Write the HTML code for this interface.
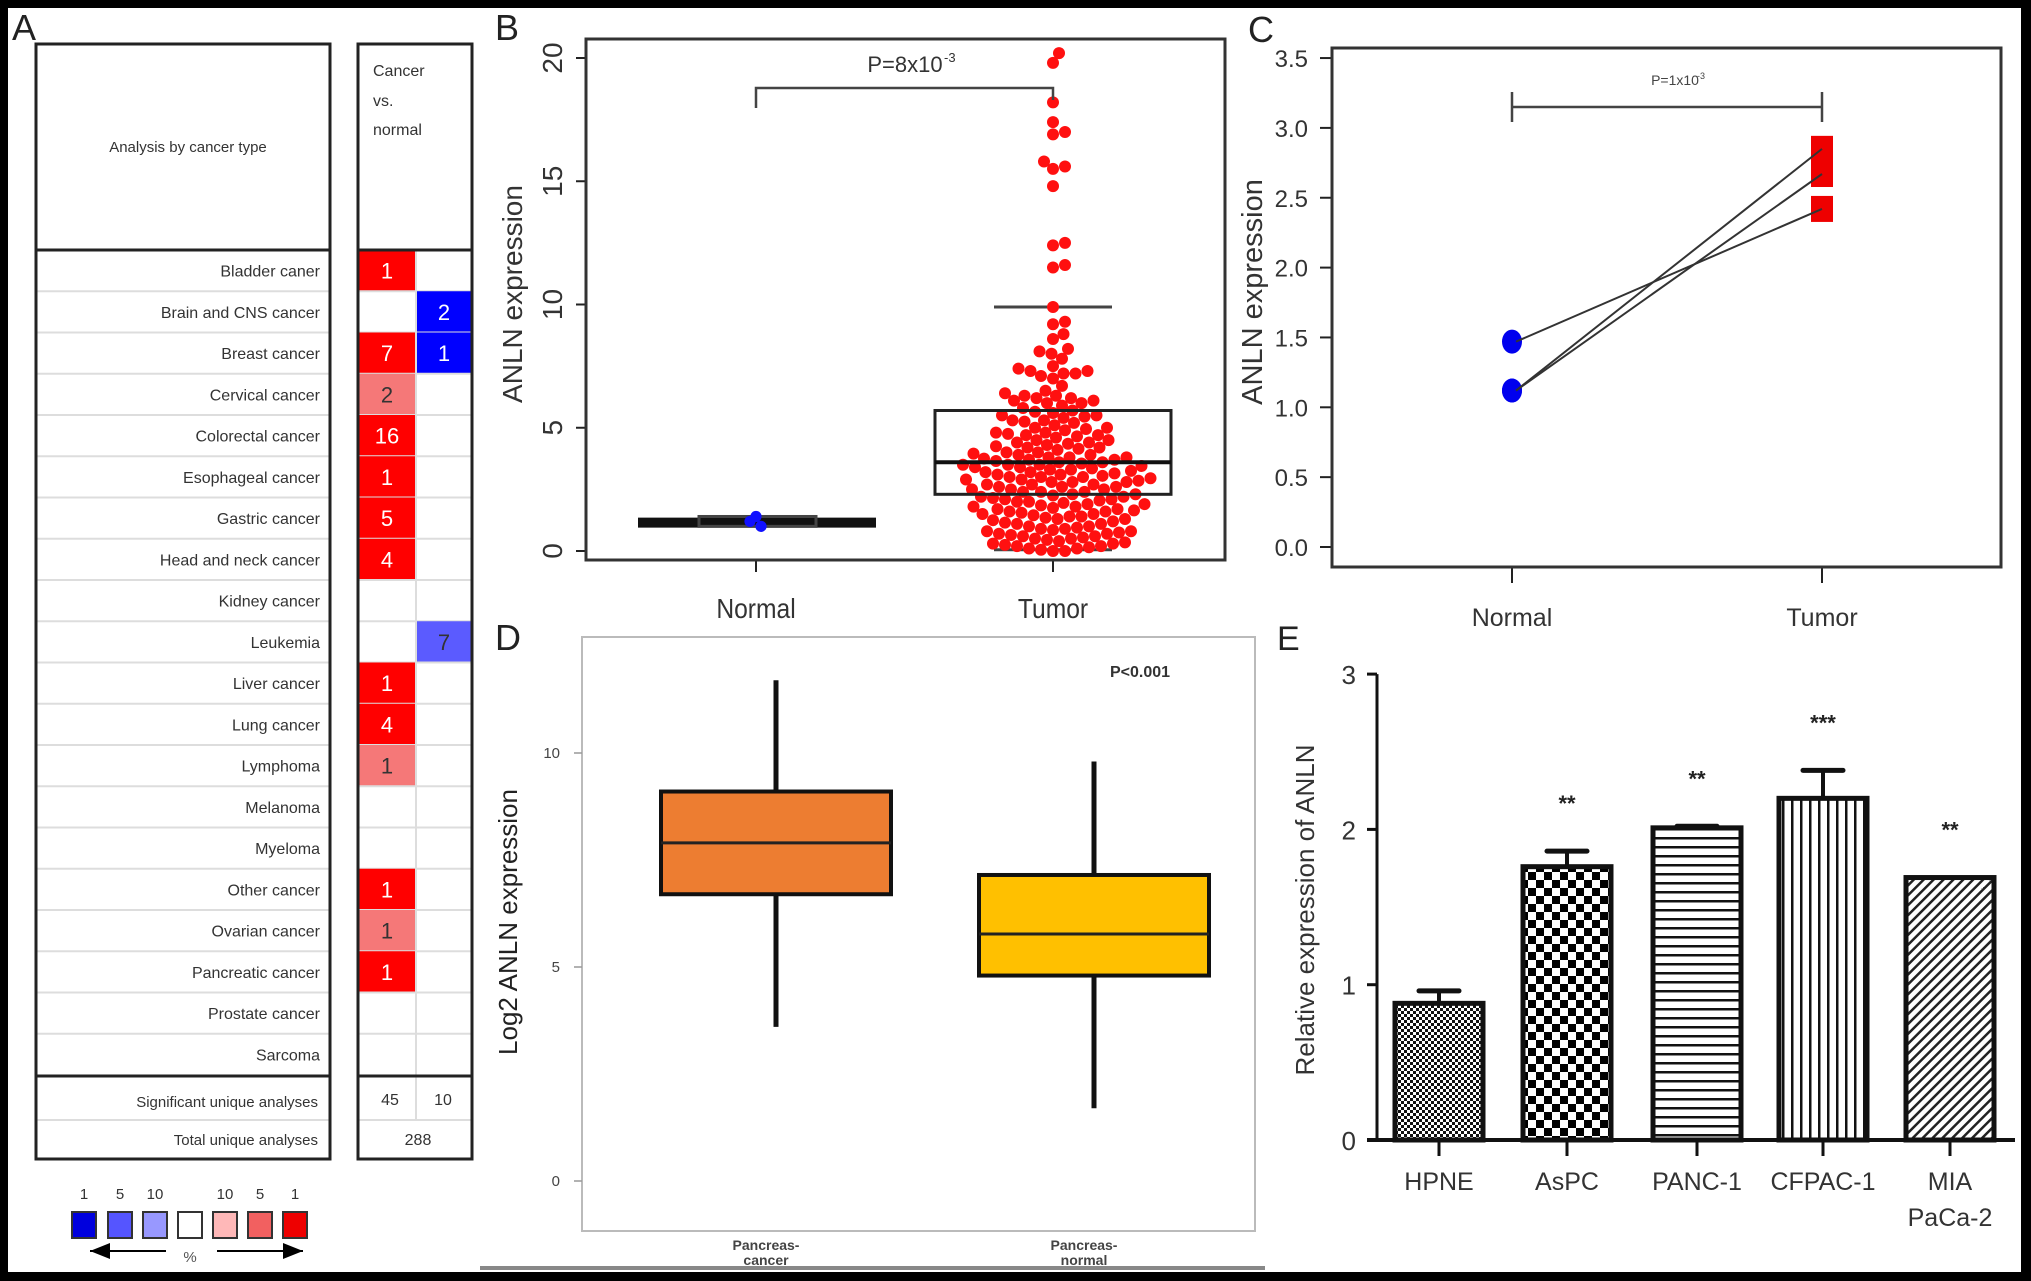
<!DOCTYPE html>
<html><head><meta charset="utf-8"><style>
html,body{margin:0;padding:0;background:#000}
svg{display:block}
text{font-family:"Liberation Sans",sans-serif}
</style></head><body>
<svg id="fig" width="2031" height="1281" viewBox="0 0 2031 1281" xmlns="http://www.w3.org/2000/svg">
<defs>
<pattern id="pHpne" width="6" height="6" patternUnits="userSpaceOnUse"><rect width="6" height="6" fill="#fff"/><rect width="3" height="3" fill="#111"/><rect x="3" y="3" width="3" height="3" fill="#111"/></pattern>
<pattern id="pAspc" width="16" height="16" patternUnits="userSpaceOnUse"><rect width="16" height="16" fill="#fff"/><rect width="8" height="8" fill="#000"/><rect x="8" y="8" width="8" height="8" fill="#000"/></pattern>
<pattern id="pPanc" width="10" height="9" patternUnits="userSpaceOnUse"><rect width="10" height="9" fill="#fff"/><rect y="0" width="10" height="2.5" fill="#111"/></pattern>
<pattern id="pCfpac" width="9" height="10" patternUnits="userSpaceOnUse"><rect width="9" height="10" fill="#fff"/><rect x="0" width="2.5" height="10" fill="#111"/></pattern>
<pattern id="pMia" width="7" height="7" patternUnits="userSpaceOnUse" patternTransform="rotate(45)"><rect width="7" height="7" fill="#fff"/><rect width="2.5" height="7" fill="#222"/></pattern>
<marker id="arrL" markerWidth="10" markerHeight="8" refX="0" refY="4" orient="auto"><path d="M10,0 L0,4 L10,8 Z" fill="#000"/></marker>
<marker id="arrR" markerWidth="10" markerHeight="8" refX="10" refY="4" orient="auto"><path d="M0,0 L10,4 L0,8 Z" fill="#000"/></marker>
</defs>
<rect x="8" y="8" width="2013" height="1264" fill="#fff"/>
<g id="gA"></g>
<g id="gB"></g>
<g id="gC"></g>
<g id="gD"></g>
<g id="gE"></g>
</svg>
<script>
// ---------- Panel A data ----------
const cancerTypes = ["Bladder caner","Brain and CNS cancer","Breast cancer","Cervical cancer","Colorectal cancer","Esophageal cancer","Gastric cancer","Head and neck cancer","Kidney cancer","Leukemia","Liver cancer","Lung cancer","Lymphoma","Melanoma","Myeloma","Other cancer","Ovarian cancer","Pancreatic cancer","Prostate cancer","Sarcoma"];
const upCounts   = [1,0,7,2,16,1,5,4,0,0,1,4,1,0,0,1,1,1,0,0];
const upShade    = [1,0,1,3,1,1,1,1,0,0,1,1,3,0,0,1,3,1,0,0];
const downCounts = [0,2,1,0,0,0,0,0,0,7,0,0,0,0,0,0,0,0,0,0];
const downShade  = [0,1,1,0,0,0,0,0,0,2,0,0,0,0,0,0,0,0,0,0];
const legendLabels = ["1","5","10","","10","5","1"];
// ---------- Panel B data ----------
const bCategories = ["Normal","Tumor"];
const bTicks = [0,5,10,15,20];
const bNormalValues = [1.0,1.2,1.4];
const bTumorValues = [20.2,19.8,18.2,17.4,17.0,16.9,15.8,15.6,15.5,14.8,12.5,12.4,11.6,11.5,9.9,9.3,9.2,8.8,8.6,8.2,8.1,7.8,7.5,7.4,7.3,7.3,7.2,7.2,7.0,6.7,6.5,6.4,6.3,6.2,6.2,6.1,6.0,6.0,5.9,5.8,5.7,5.6,5.5,5.5,5.4,5.3,5.3,5.2,5.1,5.0,5.0,4.9,4.8,4.8,4.7,4.7,4.6,4.5,4.5,4.4,4.4,4.3,4.2,4.2,4.1,4.0,4.0,3.9,3.9,3.8,3.8,3.8,3.7,3.7,3.6,3.6,3.5,3.5,3.5,3.4,3.4,3.3,3.3,3.2,3.2,3.1,3.1,3.0,3.0,3.0,2.9,2.9,2.8,2.8,2.8,2.7,2.7,2.7,2.6,2.6,2.6,2.5,2.5,2.5,2.4,2.4,2.4,2.3,2.3,2.2,2.2,2.1,2.1,2.0,2.0,1.9,1.9,1.8,1.8,1.7,1.7,1.6,1.6,1.5,1.5,1.4,1.4,1.3,1.3,1.2,1.1,1.1,1.0,1.0,0.9,0.9,0.8,0.8,0.7,0.7,0.6,0.6,0.5,0.5,0.4,0.3,0.3,0.2,0.2,0.1,0.1,0.05,0.0,0.0,
 5.45,5.25,4.95,4.65,4.35,4.15,3.95,3.75,3.55,3.45,3.35,3.25,3.15,3.05,2.95,2.85,2.25,2.15,2.05,1.95,1.85,1.75,1.65,1.55,1.45,1.35,1.25,1.15,0.95,0.85,0.75,0.65,0.55,0.45,0.35,0.25,0.15,5.65,4.75,4.25,3.65,6.1,6.3,7.1,8.0];
const bTumorBox = [0.05,2.3,3.6,5.7,9.9];
const bNormalBox = [1.0,1.05,1.15,1.25,1.4];
// ---------- Panel C data ----------
const cTicks = [0,0.5,1.0,1.5,2.0,2.5,3.0,3.5];
const cNormal = [1.47,1.12,1.12];
const cTumor = [2.42,2.85,2.67];
// ---------- Panel D data ----------
const dCategories = ["Pancreas-\ncancer","Pancreas-\nnormal"];
const dTicks = [0,5,10];
const dStats = [[3.6,6.7,7.9,9.1,11.7],[1.7,4.8,5.77,7.15,9.8]];
const dColors = ["#ed7d31","#ffc000"];
// ---------- Panel E data ----------
const eCategories = ["HPNE","AsPC","PANC-1","CFPAC-1","MIA\nPaCa-2"];
const eValues = [0.88,1.76,2.01,2.20,1.69];
const eErrors = [0.08,0.10,0.01,0.18,0.0];
const eStars = ["","**","**","***","**"];
const eTicks = [0,1,2,3];
const ePatterns = ["pHpne","pAspc","pPanc","pCfpac","pMia"];

const NS="http://www.w3.org/2000/svg";
function mk(parent,tag,attrs,txt){const e=document.createElementNS(NS,tag);for(const k in attrs)e.setAttribute(k,attrs[k]);if(txt!==undefined)e.textContent=txt;parent.appendChild(e);return e;}

// ===== Panel A =====
(function(){
const g=document.getElementById('gA');
const t=mk(g,'text',{x:12,y:40,'font-size':36,fill:'#222'},'A');


const top=250,rowH=41.25;
const red=['#fff','#ff0000','#f85050','#f57878'],blue=['#fff','#0000ff','#5b5bff','#9a9aff'];
cancerTypes.forEach((n,i)=>{
 const y=top+i*rowH;
 const lab=mk(g,'text',{x:320,y:y+rowH/2+6,'text-anchor':'end','font-size':16,fill:'#333'},n);
 
 
 if(i>0){mk(g,'line',{x1:36,x2:330,y1:y,y2:y,stroke:'#ddd','stroke-width':2});mk(g,'line',{x1:358,x2:472,y1:y,y2:y,stroke:'#ddd','stroke-width':2});}
 if(upCounts[i]>0){const r=mk(g,'rect',{x:358,y:y,width:58,height:rowH,fill:red[upShade[i]]});
  
  
  mk(g,'text',{x:387,y:y+rowH/2+8,'text-anchor':'middle','font-size':22,fill:upShade[i]===3?'#333':'#fff'},upCounts[i]);}
 if(downCounts[i]>0){const r=mk(g,'rect',{x:416,y:y,width:56,height:rowH,fill:blue[downShade[i]]});
  
  
  mk(g,'text',{x:444,y:y+rowH/2+8,'text-anchor':'middle','font-size':22,fill:downShade[i]===2?'#333':'#fff'},downCounts[i]);}
});
mk(g,'line',{x1:416,x2:416,y1:top,y2:1120,stroke:'#ddd','stroke-width':2});
mk(g,'line',{x1:36,x2:330,y1:1120,y2:1120,stroke:'#ddd','stroke-width':2});
mk(g,'line',{x1:358,x2:472,y1:1120,y2:1120,stroke:'#ddd','stroke-width':2});
mk(g,'rect',{x:36,y:44,width:294,height:1115,fill:'none',stroke:'#222','stroke-width':3});
mk(g,'rect',{x:358,y:44,width:114,height:1115,fill:'none',stroke:'#222','stroke-width':3});
mk(g,'line',{x1:36,x2:330,y1:250,y2:250,stroke:'#222','stroke-width':3});
mk(g,'line',{x1:358,x2:472,y1:250,y2:250,stroke:'#222','stroke-width':3});
mk(g,'line',{x1:36,x2:330,y1:1076,y2:1076,stroke:'#222','stroke-width':3});
mk(g,'line',{x1:358,x2:472,y1:1076,y2:1076,stroke:'#222','stroke-width':3});
mk(g,'text',{x:188,y:152,'text-anchor':'middle','font-size':15,fill:'#333'},'Analysis by cancer type');
mk(g,'text',{x:373,y:76,'font-size':16,fill:'#333'},'Cancer');
mk(g,'text',{x:373,y:106,'font-size':16,fill:'#333'},'vs.');
mk(g,'text',{x:373,y:135,'font-size':16,fill:'#333'},'normal');
mk(g,'text',{x:318,y:1107,'text-anchor':'end','font-size':15,fill:'#333'},'Significant unique analyses');
mk(g,'text',{x:318,y:1145,'text-anchor':'end','font-size':15,fill:'#333'},'Total unique analyses');
mk(g,'text',{x:390,y:1105,'text-anchor':'middle','font-size':16,fill:'#333'},'45');
mk(g,'text',{x:443,y:1105,'text-anchor':'middle','font-size':16,fill:'#333'},'10');
mk(g,'text',{x:418,y:1145,'text-anchor':'middle','font-size':16,fill:'#333'},'288');
const lc=['#0000dd','#5555ff','#9898ff','#fff','#ffb8b8','#f26060','#ee0000'];
const lx=[72,108,143,178,213,248,283];
lc.forEach((c,i)=>{const r=mk(g,'rect',{x:lx[i],y:1212,width:24,height:26,fill:c,stroke:'#333','stroke-width':2});
 
 
 mk(g,'text',{x:lx[i]+12,y:1199,'text-anchor':'middle','font-size':15,fill:'#333'},legendLabels[i]);});
mk(g,'line',{x1:90,x2:166,y1:1251,y2:1251,stroke:'#000','stroke-width':2,'marker-start':'url(#arrL)'});
mk(g,'line',{x1:217,x2:303,y1:1251,y2:1251,stroke:'#000','stroke-width':2,'marker-end':'url(#arrR)'});
mk(g,'text',{x:190,y:1262,'text-anchor':'middle','font-size':15,fill:'#555'},'%');
})();

// ===== Panel B =====
(function(){
const g=document.getElementById('gB');
const L=586,R=1225,T=39,B=560;
const y=v=>551-v*24.65;
const xc=i=>[756,1053][i];
const lab=mk(g,'text',{x:495,y:40,'font-size':36,fill:'#222'},'B');


bTicks.forEach(v=>{mk(g,'line',{x1:L-10,x2:L,y1:y(v),y2:y(v),stroke:'#222','stroke-width':2});
 const t=mk(g,'text',{x:0,y:0,'font-size':28,fill:'#333','text-anchor':'middle',transform:`translate(562,${y(v)}) rotate(-90)`},v);
 
 });
const yt=mk(g,'text',{x:0,y:0,'font-size':28,fill:'#333','text-anchor':'middle',transform:'translate(522,294) rotate(-90)'},'ANLN expression');


bCategories.forEach((c,i)=>{mk(g,'line',{x1:xc(i),x2:xc(i),y1:B,y2:B+12,stroke:'#222','stroke-width':2});
 const t=mk(g,'text',{x:xc(i),y:618,'font-size':28,'text-anchor':'middle',fill:'#333',transform:`translate(${xc(i)*0.12},0) scale(0.88,1)`},c);
 
 });
const nb=bNormalBox;
mk(g,'line',{x1:638,x2:876,y1:y(nb[2]),y2:y(nb[2]),stroke:'#111','stroke-width':10});
mk(g,'rect',{x:699,y:y(nb[4]),width:117,height:y(nb[0])-y(nb[4]),fill:'none',stroke:'#444','stroke-width':3});
const tb=bTumorBox;
[tb[0],tb[4]].forEach(v=>mk(g,'line',{x1:994,x2:1112,y1:y(v),y2:y(v),stroke:'#444','stroke-width':3}));
const r=6,placed=[];
bTumorValues.slice().sort((a,b)=>a-b).forEach(v=>{
 const py=y(v);let best=xc(1);
 for(let k=0;k<400;k++){const off=(k%2?1:-1)*Math.ceil(k/2)*1.5;const px=xc(1)+off;
  if(placed.every(p=>(p[0]-px)**2+(p[1]-py)**2>=(2*r-0.5)**2)){best=px;break;}}
 placed.push([best,py]);
 const c=mk(g,'circle',{cx:best,cy:py,r:r,fill:'#ff1010'});
 
 
});
mk(g,'rect',{x:935,y:y(tb[3]),width:236,height:y(tb[1])-y(tb[3]),fill:'none',stroke:'#222','stroke-width':3});
mk(g,'line',{x1:935,x2:1171,y1:y(tb[2]),y2:y(tb[2]),stroke:'#111','stroke-width':4});
bNormalValues.forEach((v,i)=>{const c=mk(g,'circle',{cx:xc(0)+(i===1?-6:(i===0?5:0)),cy:y(v),r:5.6,fill:'#1010ff'});
 
 });
mk(g,'path',{d:`M756,108 V88 H1053 V100`,fill:'none',stroke:'#444','stroke-width':2.5});
const p=mk(g,'text',{x:905,y:72,'font-size':22,'text-anchor':'middle',fill:'#333'},'P=8x10');


mk(g,'text',{x:944,y:62,'font-size':13,fill:'#333'},'-3');
mk(g,'rect',{x:L,y:T,width:R-L,height:B-T,fill:'none',stroke:'#333','stroke-width':3});
})();

// ===== Panel C =====
(function(){
const g=document.getElementById('gC');
const L=1332,R=2001,T=48,B=567;
const y=v=>547-v*139.7;
const xc=i=>[1512,1822][i];
const lab=mk(g,'text',{x:1248,y:42,'font-size':36,fill:'#222'},'C');


cTicks.forEach(v=>{mk(g,'line',{x1:L-12,x2:L,y1:y(v),y2:y(v),stroke:'#222','stroke-width':2});
 const t=mk(g,'text',{x:1308,y:y(v)+9,'font-size':24,'text-anchor':'end',fill:'#333'},v.toFixed(1));
 
 });
const yt=mk(g,'text',{x:0,y:0,'font-size':29,fill:'#333','text-anchor':'middle',transform:'translate(1262,292) rotate(-90)'},'ANLN expression');


["Normal","Tumor"].forEach((c,i)=>{mk(g,'line',{x1:xc(i),x2:xc(i),y1:B,y2:B+16,stroke:'#222','stroke-width':2});
 const t=mk(g,'text',{x:xc(i),y:626,'font-size':25,'text-anchor':'middle',fill:'#333'},c);
 
 });
cNormal.forEach((v,i)=>{const c=mk(g,'ellipse',{cx:xc(0),cy:y(v),rx:10,ry:12,fill:'#0000ee'});
 
 });
cTumor.forEach((v,i)=>{const s=mk(g,'rect',{x:xc(1)-11,y:y(v)-13,width:22,height:26,fill:'#ee0000'});
 
 });
cNormal.forEach((v,i)=>{const l=mk(g,'line',{x1:xc(0)+4,y1:y(v),x2:xc(1),y2:y(cTumor[i]),stroke:'#333','stroke-width':2});
 
 });
mk(g,'path',{d:'M1512,92 V122 M1512,107 H1822 M1822,92 V122',fill:'none',stroke:'#444','stroke-width':2.5});
const p=mk(g,'text',{x:1675,y:85,'font-size':14,'text-anchor':'middle',fill:'#444'},'P=1x10');


mk(g,'text',{x:1697,y:79,'font-size':9,fill:'#444'},'-3');
mk(g,'rect',{x:L,y:T,width:R-L,height:B-T,fill:'none',stroke:'#333','stroke-width':3});
})();

// ===== Panel D =====
(function(){
const g=document.getElementById('gD');
const L=582,R=1255,T=637,B=1231;
const y=v=>1181-v*42.8;
const xc=i=>[776,1094][i];
const lab=mk(g,'text',{x:495,y:650,'font-size':36,fill:'#222'},'D');


mk(g,'rect',{x:L,y:T,width:R-L,height:B-T,fill:'#fff',stroke:'#bbb','stroke-width':2});
dTicks.forEach(v=>{mk(g,'line',{x1:L-8,x2:L,y1:y(v),y2:y(v),stroke:'#999','stroke-width':1.5});
 const t=mk(g,'text',{x:560,y:y(v)+5,'font-size':15,'text-anchor':'end',fill:'#444'},v);
 
 });
const yt=mk(g,'text',{x:0,y:0,'font-size':26,fill:'#222','text-anchor':'middle',transform:'translate(517,922) rotate(-90)'},'Log2 ANLN expression');


dStats.forEach((s,i)=>{
 const cx=xc(i);
 const w=mk(g,'line',{x1:cx,x2:cx,y1:y(s[0]),y2:y(s[4]),stroke:'#111','stroke-width':5});
 
 
 const b=mk(g,'rect',{x:cx-115,y:y(s[3]),width:230,height:y(s[1])-y(s[3]),fill:dColors[i],stroke:'#111','stroke-width':4});
 
 
 mk(g,'line',{x1:cx-115,x2:cx+115,y1:y(s[2]),y2:y(s[2]),stroke:'#222','stroke-width':3});
 dCategories[i].split('\n').forEach((ln,k)=>{const t=mk(g,'text',{x:cx-10,y:1250+k*15,'font-size':14,'text-anchor':'middle',fill:'#444','font-weight':'bold'},ln);
  
  });
});
const p=mk(g,'text',{x:1140,y:677,'font-size':16,'text-anchor':'middle',fill:'#333','font-weight':'bold'},'P<0.001');


mk(g,'line',{x1:480,x2:1265,y1:1268,y2:1268,stroke:'#888','stroke-width':4});
})();

// ===== Panel E =====
(function(){
const g=document.getElementById('gE');
const x0=1377,xEnd=2015;
const y=v=>1140-v*155.3;
const bx=[1395,1523,1653,1779,1906],bw=88;
const lab=mk(g,'text',{x:1277,y:650,'font-size':34,fill:'#222'},'E');


eTicks.forEach(v=>{mk(g,'line',{x1:x0-10,x2:x0,y1:y(v),y2:y(v),stroke:'#111','stroke-width':3});
 const t=mk(g,'text',{x:1356,y:y(v)+10,'font-size':26,'text-anchor':'end',fill:'#333'},v);
 
 });
const yt=mk(g,'text',{x:0,y:0,'font-size':26,fill:'#333','text-anchor':'middle',transform:'translate(1314,910) rotate(-90)'},'Relative expression of ANLN');


eValues.forEach((v,i)=>{
 const cx=bx[i]+bw/2;
 if(eErrors[i]>0){mk(g,'line',{x1:cx,x2:cx,y1:y(v),y2:y(v+eErrors[i]),stroke:'#111','stroke-width':4});
  const eb=mk(g,'line',{x1:cx-20,x2:cx+20,y1:y(v+eErrors[i]),y2:y(v+eErrors[i]),stroke:'#111','stroke-width':5,'stroke-linecap':'round'});
  
  }
 const r=mk(g,'rect',{x:bx[i],y:y(v),width:bw,height:y(0)-y(v),fill:`url(#${ePatterns[i]})`,stroke:'#111','stroke-width':5});
 
 
 if(eStars[i]){const s=mk(g,'text',{x:cx,y:y(v+eErrors[i])-40,'font-size':22,'text-anchor':'middle',fill:'#222','font-weight':'bold'},eStars[i]);
  
  }
 mk(g,'line',{x1:cx,x2:cx,y1:y(0),y2:y(0)+16,stroke:'#111','stroke-width':3});
 eCategories[i].split('\n').forEach((ln,k)=>{const t=mk(g,'text',{x:cx,y:1190+k*36,'font-size':25,'text-anchor':'middle',fill:'#333'},ln);
  
  });
});
mk(g,'line',{x1:x0,x2:x0,y1:y(3),y2:y(0),stroke:'#111','stroke-width':3});
mk(g,'line',{x1:x0-10,x2:xEnd,y1:y(0),y2:y(0),stroke:'#111','stroke-width':4});
})();
</script>
</body></html>
